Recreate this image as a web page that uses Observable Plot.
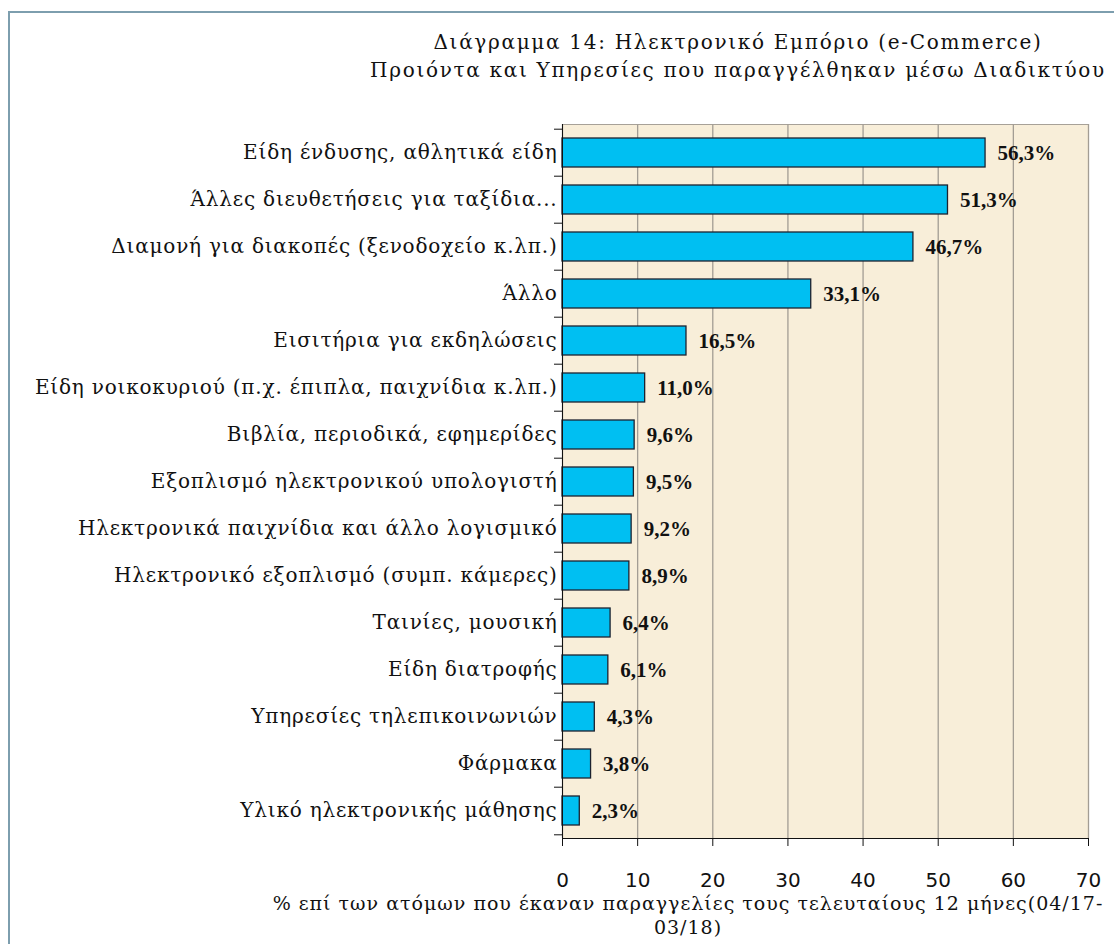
<!DOCTYPE html>
<html>
<head>
<meta charset="utf-8">
<script src="https://cdn.jsdelivr.net/npm/d3@7"></script>
<script src="https://cdn.jsdelivr.net/npm/@observablehq/plot@0.6"></script>
<style>
  body { margin: 0; background: #fff; }
  #wrap { position: relative; width: 1114px; height: 944px; overflow: hidden; background: #fff; }
  #border { position: absolute; left: 8px; top: 11px; width: 1200px; height: 1100px; border: 2px solid #7d9eae; box-sizing: border-box; }
  #title { position: absolute; left: 360px; top: 28px; width: 756px; text-align: center;
           font-family: "DejaVu Serif", serif; font-size: 20px; letter-spacing: 1.7px; line-height: 28px; color: #111; }
  #chart { position: absolute; left: 0; top: 100px; }
  #caption { position: absolute; left: 262px; top: 891px; width: 852px; text-align: center;
             font-family: "DejaVu Serif", serif; font-size: 19px; letter-spacing: 1px; line-height: 24px; color: #111; }
  #chart g[aria-label="y-axis tick label"] text { letter-spacing: 0.8px; }
</style>
</head>
<body>
<div id="wrap">
  <div id="border"></div>
  <div id="title"></div>
  <div id="chart"></div>
  <div id="caption"></div>
</div>
<script>
const titleLines = [
  "Διάγραμμα 14: Ηλεκτρονικό Εμπόριο (e-Commerce)",
  "Προιόντα και Υπηρεσίες που παραγγέλθηκαν μέσω Διαδικτύου"
];
const captionLines = [
  "% επί των ατόμων που έκαναν παραγγελίες τους τελευταίους 12 μήνες(04/17-",
  "03/18)"
];
const categories = [
  "Είδη ένδυσης, αθλητικά είδη",
  "Άλλες διευθετήσεις για ταξίδια...",
  "Διαμονή για διακοπές (ξενοδοχείο κ.λπ.)",
  "Άλλο",
  "Εισιτήρια για εκδηλώσεις",
  "Είδη νοικοκυριού (π.χ. έπιπλα, παιχνίδια κ.λπ.)",
  "Βιβλία, περιοδικά, εφημερίδες",
  "Εξοπλισμό ηλεκτρονικού υπολογιστή",
  "Ηλεκτρονικά παιχνίδια και άλλο λογισμικό",
  "Ηλεκτρονικό εξοπλισμό (συμπ. κάμερες)",
  "Ταινίες, μουσική",
  "Είδη διατροφής",
  "Υπηρεσίες τηλεπικοινωνιών",
  "Φάρμακα",
  "Υλικό ηλεκτρονικής μάθησης"
];
const values = [56.3, 51.3, 46.7, 33.1, 16.5, 11.0, 9.6, 9.5, 9.2, 8.9, 6.4, 6.1, 4.3, 3.8, 2.3];
const xTicks = [0, 10, 20, 30, 40, 50, 60, 70];

document.getElementById("title").innerHTML = titleLines.join("<br>");
document.getElementById("caption").innerHTML = captionLines.join("<br>");

const data = categories.map((c, i) => ({category: c, value: values[i]}));
const fmt = v => v.toFixed(1).replace(".", ",") + "%";

const W = 1114, H = 792, mTop = 24, mBottom = 54, mLeft = 562, mRight = W - 1088;
const step = (H - mTop - mBottom) / categories.length;
const pad = 0.39;

const chart = Plot.plot({
  width: W,
  height: H,
  marginTop: mTop,
  marginBottom: mBottom,
  marginLeft: mLeft,
  marginRight: mRight,
  style: {fontFamily: "DejaVu Serif, serif", color: "#111", background: "transparent", overflow: "visible"},
  x: {domain: [0, 70], ticks: xTicks},
  y: {domain: categories, paddingInner: pad, paddingOuter: pad / 2},
  marks: [
    Plot.frame({fill: "#f8eed9", stroke: "#a7a198"}),
    Plot.gridX(xTicks, {stroke: "#a39d94", strokeOpacity: 1, strokeWidth: 1.3}),
    Plot.barX(data, {x: "value", y: "category", fill: "#00bff2", stroke: "#1c2230", strokeWidth: 1.3}),
    Plot.text(data, {x: "value", y: "category", text: d => fmt(d.value), textAnchor: "start", dx: 12,
      fontWeight: "bold", fontSize: 21, fontFamily: "Liberation Serif, serif", fill: "#111"}),
    Plot.frame({anchor: "left", stroke: "#111"}),
    Plot.frame({anchor: "bottom", stroke: "#111"}),
    Plot.axisY({tickSize: 0, tickPadding: 5, fontSize: 20, label: null,
      fontFamily: "DejaVu Serif, serif"}),
    Plot.axisY({tickSize: 8, tickFormat: () => "", dy: -step / 2, label: null, stroke: "#111"}),
    Plot.axisY({ticks: categories.slice(-1), tickSize: 8, tickFormat: () => "", dy: step / 2, label: null, stroke: "#111"}),
    Plot.axisX({ticks: xTicks, tickSize: 8, tickPadding: 26, fontSize: 20, label: null,
      fontFamily: "DejaVu Sans, sans-serif", stroke: "#111"})
  ]
});
document.getElementById("chart").appendChild(chart);
</script>
</body>
</html>
